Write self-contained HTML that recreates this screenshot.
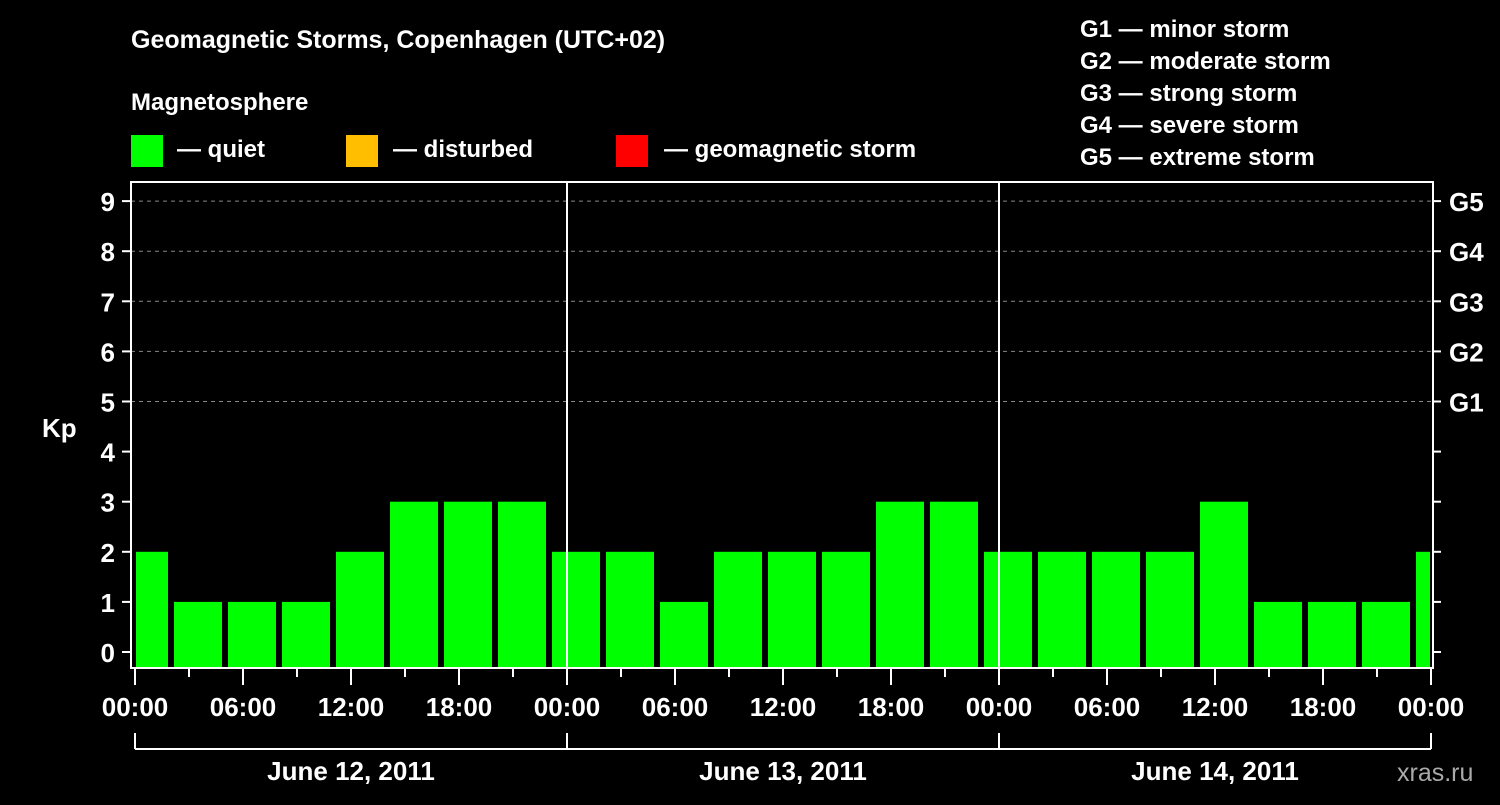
<!DOCTYPE html>
<html><head><meta charset="utf-8"><style>
body{margin:0;background:#000;width:1500px;height:800px;overflow:hidden;font-family:"Liberation Sans",Arial,sans-serif}
svg text{font-family:"Liberation Sans",Arial,sans-serif;font-weight:bold;fill:#fff}
</style></head><body>
<svg id="chart" width="1500" height="800" xmlns="http://www.w3.org/2000/svg">
<rect width="1500" height="800" fill="#000"/>
<text x="131" y="48" font-size="25">Geomagnetic Storms, Copenhagen (UTC+02)</text>
<text x="131" y="110" font-size="24">Magnetosphere</text>
<g><rect x="131" y="135" width="32" height="32" fill="#00ff00"/><text x="177" y="157" font-size="24">— quiet</text></g>
<g><rect x="346" y="135" width="32" height="32" fill="#ffbf00"/><text x="393" y="157" font-size="24">— disturbed</text></g>
<g><rect x="616" y="135" width="32" height="32" fill="#ff0000"/><text x="664" y="157" font-size="24">— geomagnetic storm</text></g>
<g font-size="24">
<text x="1080" y="37">G1 — minor storm</text>
<text x="1080" y="69">G2 — moderate storm</text>
<text x="1080" y="101">G3 — strong storm</text>
<text x="1080" y="133">G4 — severe storm</text>
<text x="1080" y="165">G5 — extreme storm</text>
</g>
<g id="grid"></g>
<g id="bars"></g>
<g id="axes"></g>
<text x="42" y="437" font-size="26">Kp</text>
<text x="1397" y="781" font-size="25" fill="#aaa" style="fill:#aaa;font-weight:normal">xras.ru</text>
</svg>
<script>
const kpValues=[2,1,1,1,2,3,3,3,2,2,1,2,2,2,3,3,2,2,2,2,3,1,1,1,2];
const firstBarHour=-1;
const yTicks=[0,1,2,3,4,5,6,7,8,9];
const gLabels=["G1","G2","G3","G4","G5"];
const gLevels=[5,6,7,8,9];
const xTickLabels=["00:00","06:00","12:00","18:00","00:00","06:00","12:00","18:00","00:00","06:00","12:00","18:00","00:00"];
const dayLabels=["June 12, 2011","June 13, 2011","June 14, 2011"];
const NS="http://www.w3.org/2000/svg";
const X0=135,PXH=18,L=131,R=1433,T=182,B=668;
const x=h=>X0+h*PXH;
const y=v=>652-50.1*v;
function mk(tag,attrs,parent,txt){const e=document.createElementNS(NS,tag);for(const k in attrs)e.setAttribute(k,attrs[k]);if(txt!==undefined)e.textContent=txt;parent.appendChild(e);return e;}
const grid=document.getElementById('grid'),bars=document.getElementById('bars'),axes=document.getElementById('axes');
gLevels.forEach((v,i)=>{
 const l=mk('line',{x1:L,x2:R,y1:y(v),y2:y(v),stroke:'#888','stroke-dasharray':'4,4','stroke-width':1},grid);
 
 
 const t=mk('text',{x:1449,y:y(v)+10,'font-size':26},axes,gLabels[i]);
 
 
});
kpValues.forEach((v,i)=>{
 const h0=firstBarHour+3*i;
 let x1=x(h0)+3,x2=x(h0+3)-3;
 x1=Math.max(x1,L+5);x2=Math.min(x2,R-3);
 const col=v>=5?'#ff0000':(v>=4?'#ffbf00':'#00ff00');
 const r=mk('rect',{x:x1,y:y(v),width:x2-x1,height:B-y(v),fill:col},bars);
 
 
});
const fr=mk('rect',{x:L,y:T,width:R-L,height:B-T,fill:'none',stroke:'#fff','stroke-width':2},axes);


[1,2].forEach(d=>{const l=mk('line',{x1:x(24*d),x2:x(24*d),y1:T,y2:B,stroke:'#fff','stroke-width':2},axes);
 
 });
yTicks.forEach(v=>{
 mk('line',{x1:122,x2:L,y1:y(v),y2:y(v),stroke:'#fff','stroke-width':2},axes);
 mk('line',{x1:R,x2:1441,y1:y(v),y2:y(v),stroke:'#fff','stroke-width':2},axes);
 const t=mk('text',{x:115,y:y(v)+10,'font-size':26,'text-anchor':'end'},axes,String(v));
 
 
});
for(let h=0;h<=72;h+=3){
 const major=h%6===0;
 mk('line',{x1:x(h),x2:x(h),y1:B,y2:major?685:677,stroke:'#fff','stroke-width':2},axes);
}
xTickLabels.forEach((s,i)=>{
 const t=mk('text',{x:x(6*i),y:716,'font-size':26,'text-anchor':'middle'},axes,s);
 
 
});
mk('line',{x1:x(0),x2:x(72),y1:749,y2:749,stroke:'#fff','stroke-width':2},axes);
for(let d=0;d<=3;d++) mk('line',{x1:x(24*d),x2:x(24*d),y1:733,y2:749,stroke:'#fff','stroke-width':2},axes);
dayLabels.forEach((s,i)=>{
 const t=mk('text',{x:x(24*i+12),y:780,'font-size':26,'text-anchor':'middle'},axes,s);
 
 
});
</script>
</body></html>
